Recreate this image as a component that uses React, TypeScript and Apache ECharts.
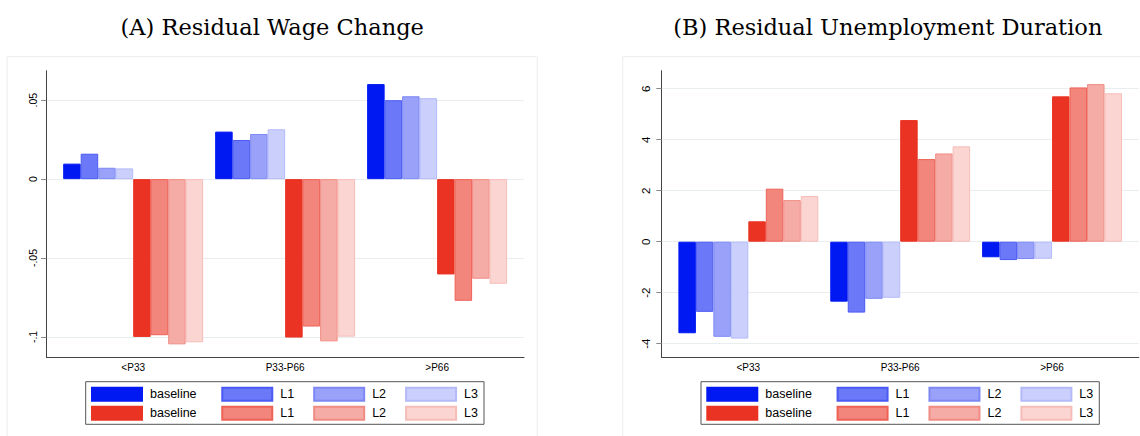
import { useEffect, useRef } from "react";
import * as echarts from "echarts";

// categories and bar groups
const categories = ["<P33", "P33-P66", ">P66"];
const levels = ["baseline", "L1", "L2", "L3"];

// (A) residual wage change, one row per level: baseline, L1, L2, L3
const wageBlue = [
  [0.0098, 0.0301, 0.0602],
  [0.0161, 0.0248, 0.05],
  [0.0072, 0.0286, 0.0525],
  [0.0068, 0.0316, 0.0513],
];
const wageRed = [
  [-0.1, -0.1004, -0.0604],
  [-0.0989, -0.0934, -0.0771],
  [-0.1047, -0.1028, -0.0631],
  [-0.1034, -0.0998, -0.0663],
];
const wageTicks = [-0.1, -0.05, 0, 0.05];

// (B) residual unemployment duration
const durBlue = [
  [-3.59, -2.35, -0.61],
  [-2.75, -2.78, -0.72],
  [-3.73, -2.24, -0.68],
  [-3.8, -2.2, -0.67],
];
const durRed = [
  [0.8, 4.77, 5.7],
  [2.08, 3.24, 6.05],
  [1.63, 3.46, 6.18],
  [1.79, 3.74, 5.82],
];
const durTicks = [-4, -2, 0, 2, 4, 6];

const blueFill = ["#0018f2", "#6b78f7", "#99a1f8", "#cbcffb"];
const blueLine = ["#0018f2", "#4a5af3", "#7d88f5", "#b4baf8"];
const redFill = ["#ea3323", "#f2857c", "#f5aca6", "#fbd5d2"];
const redLine = ["#ea3323", "#ee6256", "#f08c84", "#f6bdb8"];

const SANS = "Liberation Sans";

// Stata style tick labels: .05, -.1
const stataLabel = (v: number) => String(v).replace("0.", ".");

const panels = [
  {
    key: "wage",
    title: "(A) Residual Wage Change",
    blue: wageBlue,
    red: wageRed,
    ticks: wageTicks,
    min: -0.1129,
    max: 0.0687,
    frameX: 7.1,
    axisLeft: 46.4,
    axisRight: 524,
    barLeft: 57.2,
    barRight: 513.1,
    legendX: 85.7,
    labelSize: 10.5,
    labelMargin: 8,
  },
  {
    key: "dur",
    title: "(B) Residual Unemployment Duration",
    blue: durBlue,
    red: durRed,
    ticks: durTicks,
    min: -4.533,
    max: 6.706,
    frameX: 622.7,
    axisLeft: 661.6,
    axisRight: 1138.8,
    barLeft: 672.4,
    barRight: 1128,
    legendX: 701,
    labelSize: 11.5,
    labelMargin: 10,
  },
];

const W = 1140;
const H = 436;
const plotTop = 70.7;
const plotBottom = 357.3;

export default function App() {
  const ref = useRef<HTMLDivElement>(null);

  useEffect(() => {
    const chart = echarts.init(ref.current, null, { renderer: "svg" });

    const grid: any[] = [];
    const xAxis: any[] = [];
    const yAxis: any[] = [];
    const series: any[] = [];
    const legend: any[] = [];
    const graphic: any[] = [];

    panels.forEach((p, pi) => {
      // grid for the bars
      grid.push({
        left: p.barLeft,
        right: W - p.barRight,
        top: plotTop,
        bottom: H - plotBottom,
      });
      // grid for the axis frame
      grid.push({
        left: p.axisLeft,
        right: W - p.axisRight,
        top: plotTop,
        bottom: H - plotBottom,
      });

      xAxis.push({
        type: "category",
        gridIndex: 2 * pi,
        data: categories,
        axisLine: { show: false },
        axisTick: { show: false },
        axisLabel: {
          interval: 0,
          margin: 5,
          fontSize: 10,
          fontFamily: SANS,
          color: "#000",
        },
      });
      xAxis.push({
        type: "value",
        gridIndex: 2 * pi + 1,
        min: 0,
        max: 1,
        axisLine: { show: true, onZero: false, lineStyle: { color: "#444", width: 1 } },
        axisTick: { show: false },
        axisLabel: { show: false },
        splitLine: { show: false },
      });

      yAxis.push({
        type: "value",
        gridIndex: 2 * pi,
        min: p.min,
        max: p.max,
        show: false,
      });
      yAxis.push({
        type: "value",
        gridIndex: 2 * pi + 1,
        min: p.min,
        max: p.max,
        axisLine: { show: true, onZero: false, lineStyle: { color: "#444", width: 1 } },
        axisTick: {
          show: true,
          length: 5.3,
          customValues: p.ticks,
          lineStyle: { color: "#888", width: 1 },
        },
        axisLabel: {
          customValues: p.ticks,
          rotate: 90,
          margin: p.labelMargin,
          fontSize: p.labelSize,
          fontFamily: SANS,
          color: "#000",
          formatter: (v: number) => stataLabel(v),
        },
        splitLine: { show: true, lineStyle: { color: "#e8eef0", width: 1 } },
      });

      const groups = [
        { color: "blue", values: p.blue, fill: blueFill, line: blueLine },
        { color: "red", values: p.red, fill: redFill, line: redLine },
      ];

      groups.forEach((g, gi) => {
        const names: string[] = [];
        levels.forEach((lv, li) => {
          const name = `${p.key} ${g.color} ${lv}`;
          names.push(name);
          series.push({
            type: "bar",
            name,
            xAxisIndex: 2 * pi,
            yAxisIndex: 2 * pi,
            data: g.values[li],
            barGap: "0%",
            barCategoryGap: "7.9%",
            itemStyle: { color: g.fill[li], borderColor: g.line[li], borderWidth: 1 },
          });
        });
        legend.push({
          left: p.legendX + 5.3,
          top: gi === 0 ? 386.7 : 405.7,
          orient: "horizontal",
          padding: 0,
          itemGap: 19,
          itemWidth: 50,
          itemHeight: 13,
          icon: "rect",
          selectedMode: false,
          data: names.map((n, i) => ({
            name: n,
            textStyle: { padding: [0, i === 0 ? 5.7 : 0, 0, 3] },
          })),
          formatter: (n: string) => n.split(" ")[2],
          textStyle: { fontFamily: SANS, fontSize: 12.5, color: "#000", lineHeight: 13 },
        });
      });

      // panel frame, legend box and title
      graphic.push({
        type: "rect",
        z: -10,
        silent: true,
        shape: { x: p.frameX, y: 56.7, width: 530.2, height: 400 },
        style: { fill: "#fff", stroke: "#ececec", lineWidth: 1 },
      });
      graphic.push({
        type: "rect",
        z: -5,
        silent: true,
        shape: { x: p.legendX, y: 381.7, width: 398.3, height: 42.6 },
        style: { fill: "#fff", stroke: "#555", lineWidth: 1 },
      });
      graphic.push({
        type: "text",
        x: p.frameX + 265.1,
        y: 26.5,
        silent: true,
        style: {
          text: p.title,
          font: '22.5px "DejaVu Serif"',
          fill: "#000",
          textAlign: "center",
          textVerticalAlign: "middle",
        },
      });
    });

    chart.setOption({
      animation: false,
      backgroundColor: "#fff",
      grid,
      xAxis,
      yAxis,
      series,
      legend,
      graphic,
    });

    return () => {
      chart.dispose();
    };
  }, []);

  return (
    <div
      ref={ref}
      style={{ position: "fixed", left: 0, top: 0, width: W, height: H }}
    />
  );
}
